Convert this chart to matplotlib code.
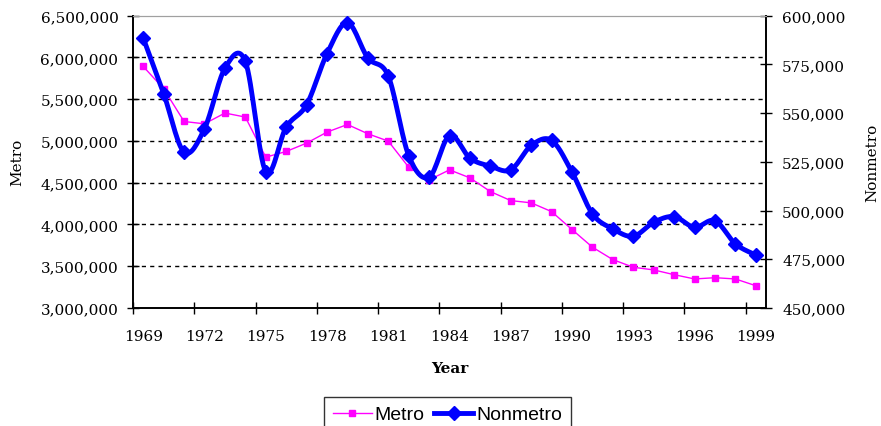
import numpy as np
import matplotlib.pyplot as plt
from matplotlib.ticker import FuncFormatter

# population values
years = list(range(1969, 2000))
metro = [5892000, 5625000, 5233000, 5205000, 5334000, 5286000, 4806000, 4874000,
         4974000, 5106000, 5197000, 5086000, 4998000, 4686000, 4534000, 4654000,
         4558000, 4394000, 4286000, 4259000, 4154000, 3939000, 3728000, 3579000,
         3488000, 3456000, 3399000, 3348000, 3363000, 3348000, 3267000]
nonmetro = [588500, 560000, 530000, 542000, 573000, 576500, 520000, 542800,
            554300, 580500, 596400, 578300, 569000, 528200, 517100, 538500,
            526900, 522800, 520900, 533400, 536000, 519700, 498300, 490600,
            486800, 494000, 496900, 491400, 494800, 482900, 477200]
label_years = years[::3]


def catmull_rom(xs, ys, n=16):
    # smoothed line like the spreadsheet's "smoothed line" option
    p = np.column_stack([xs, ys]).astype(float)
    p = np.vstack([p[0], p, p[-1]])
    out = []
    t = np.linspace(0, 1, n, endpoint=False)[:, None]
    for i in range(1, len(p) - 2):
        p0, p1, p2, p3 = p[i - 1], p[i], p[i + 1], p[i + 2]
        seg = 0.5 * (2 * p1 + (-p0 + p2) * t + (2 * p0 - 5 * p1 + 4 * p2 - p3) * t ** 2
                     + (-p0 + 3 * p1 - 3 * p2 + p3) * t ** 3)
        out.append(seg)
    out.append(p[-2][None, :])
    out = np.vstack(out)
    return out[:, 0], out[:, 1]


serif = 'DejaVu Serif'
fig = plt.figure(figsize=(8.81, 4.27), dpi=100)
ax = fig.add_axes([0.151, 0.2763, 0.7185, 0.6847])
ax2 = ax.twinx()

ax.plot(years, metro, color='#FF00FF', lw=1, marker='s', ms=5, mec='#FF00FF', zorder=3)
sx, sy = catmull_rom(years, nonmetro)
ax2.plot(sx, sy, color='#0000FF', lw=3.5, zorder=3)
ax2.plot(years, nonmetro, ls='none', marker='D', ms=7, color='#0000FF', zorder=4)

ax.set_xlim(1968.5, 1999.5)
ax.set_ylim(3000000, 6500000)
ax2.set_ylim(450000, 600000)

ax.set_yticks(np.arange(3000000, 6500001, 500000))
ax2.set_yticks(np.arange(450000, 600001, 25000))
fmt = FuncFormatter(lambda v, p: f'{int(v):,}')
ax.yaxis.set_major_formatter(fmt)
ax2.yaxis.set_major_formatter(fmt)

ax.set_xticks(np.arange(1968.5, 2000, 3))
ax.set_xticklabels([])
ax.set_xticks(label_years, minor=True)
ax.set_xticklabels([str(y) for y in label_years], minor=True)
ax.tick_params(axis='x', which='minor', length=0, pad=15)
ax.tick_params(axis='x', which='major', direction='inout', length=9, width=1)
ax.tick_params(axis='y', direction='inout', length=9, width=1, pad=6)
ax2.tick_params(axis='y', direction='inout', length=9, width=1, pad=7)
for a in (ax, ax2):
    for lab in a.get_xticklabels(which='both') + a.get_yticklabels():
        lab.set_fontfamily(serif)
        lab.set_fontsize(11)

for v in np.arange(3500000, 6500000, 500000):
    ax.axhline(v, color='black', lw=1, ls=(0, (3, 3)), zorder=1)

for a in (ax, ax2):
    a.spines['top'].set_color('#a0a0a0')
    a.spines['left'].set_linewidth(1.2)
    a.spines['right'].set_linewidth(1.2)
    a.spines['bottom'].set_linewidth(1.2)

ax.set_xlabel('Year', family=serif, fontsize=11, fontweight='bold', labelpad=13)
ax.set_ylabel('Metro', family=serif, fontsize=11, labelpad=12)
ax2.set_ylabel('Nonmetro', family=serif, fontsize=11, labelpad=14)

h1 = plt.Line2D([], [], color='#FF00FF', lw=1, marker='s', ms=5)
h2 = plt.Line2D([], [], color='#0000FF', lw=3.5, marker='D', ms=7)
leg = fig.legend([h1, h2], ['Metro', 'Nonmetro'], loc='upper center',
                 bbox_to_anchor=(0.508, 0.068), ncol=2, frameon=True, fancybox=False,
                 edgecolor='black', prop={'family': 'Liberation Sans', 'size': 14},
                 handlelength=2.0, handletextpad=0.15, columnspacing=0.5,
                 borderpad=0.45, borderaxespad=0)
leg.get_frame().set_linewidth(1)

fig.savefig('out.png', dpi=100)
